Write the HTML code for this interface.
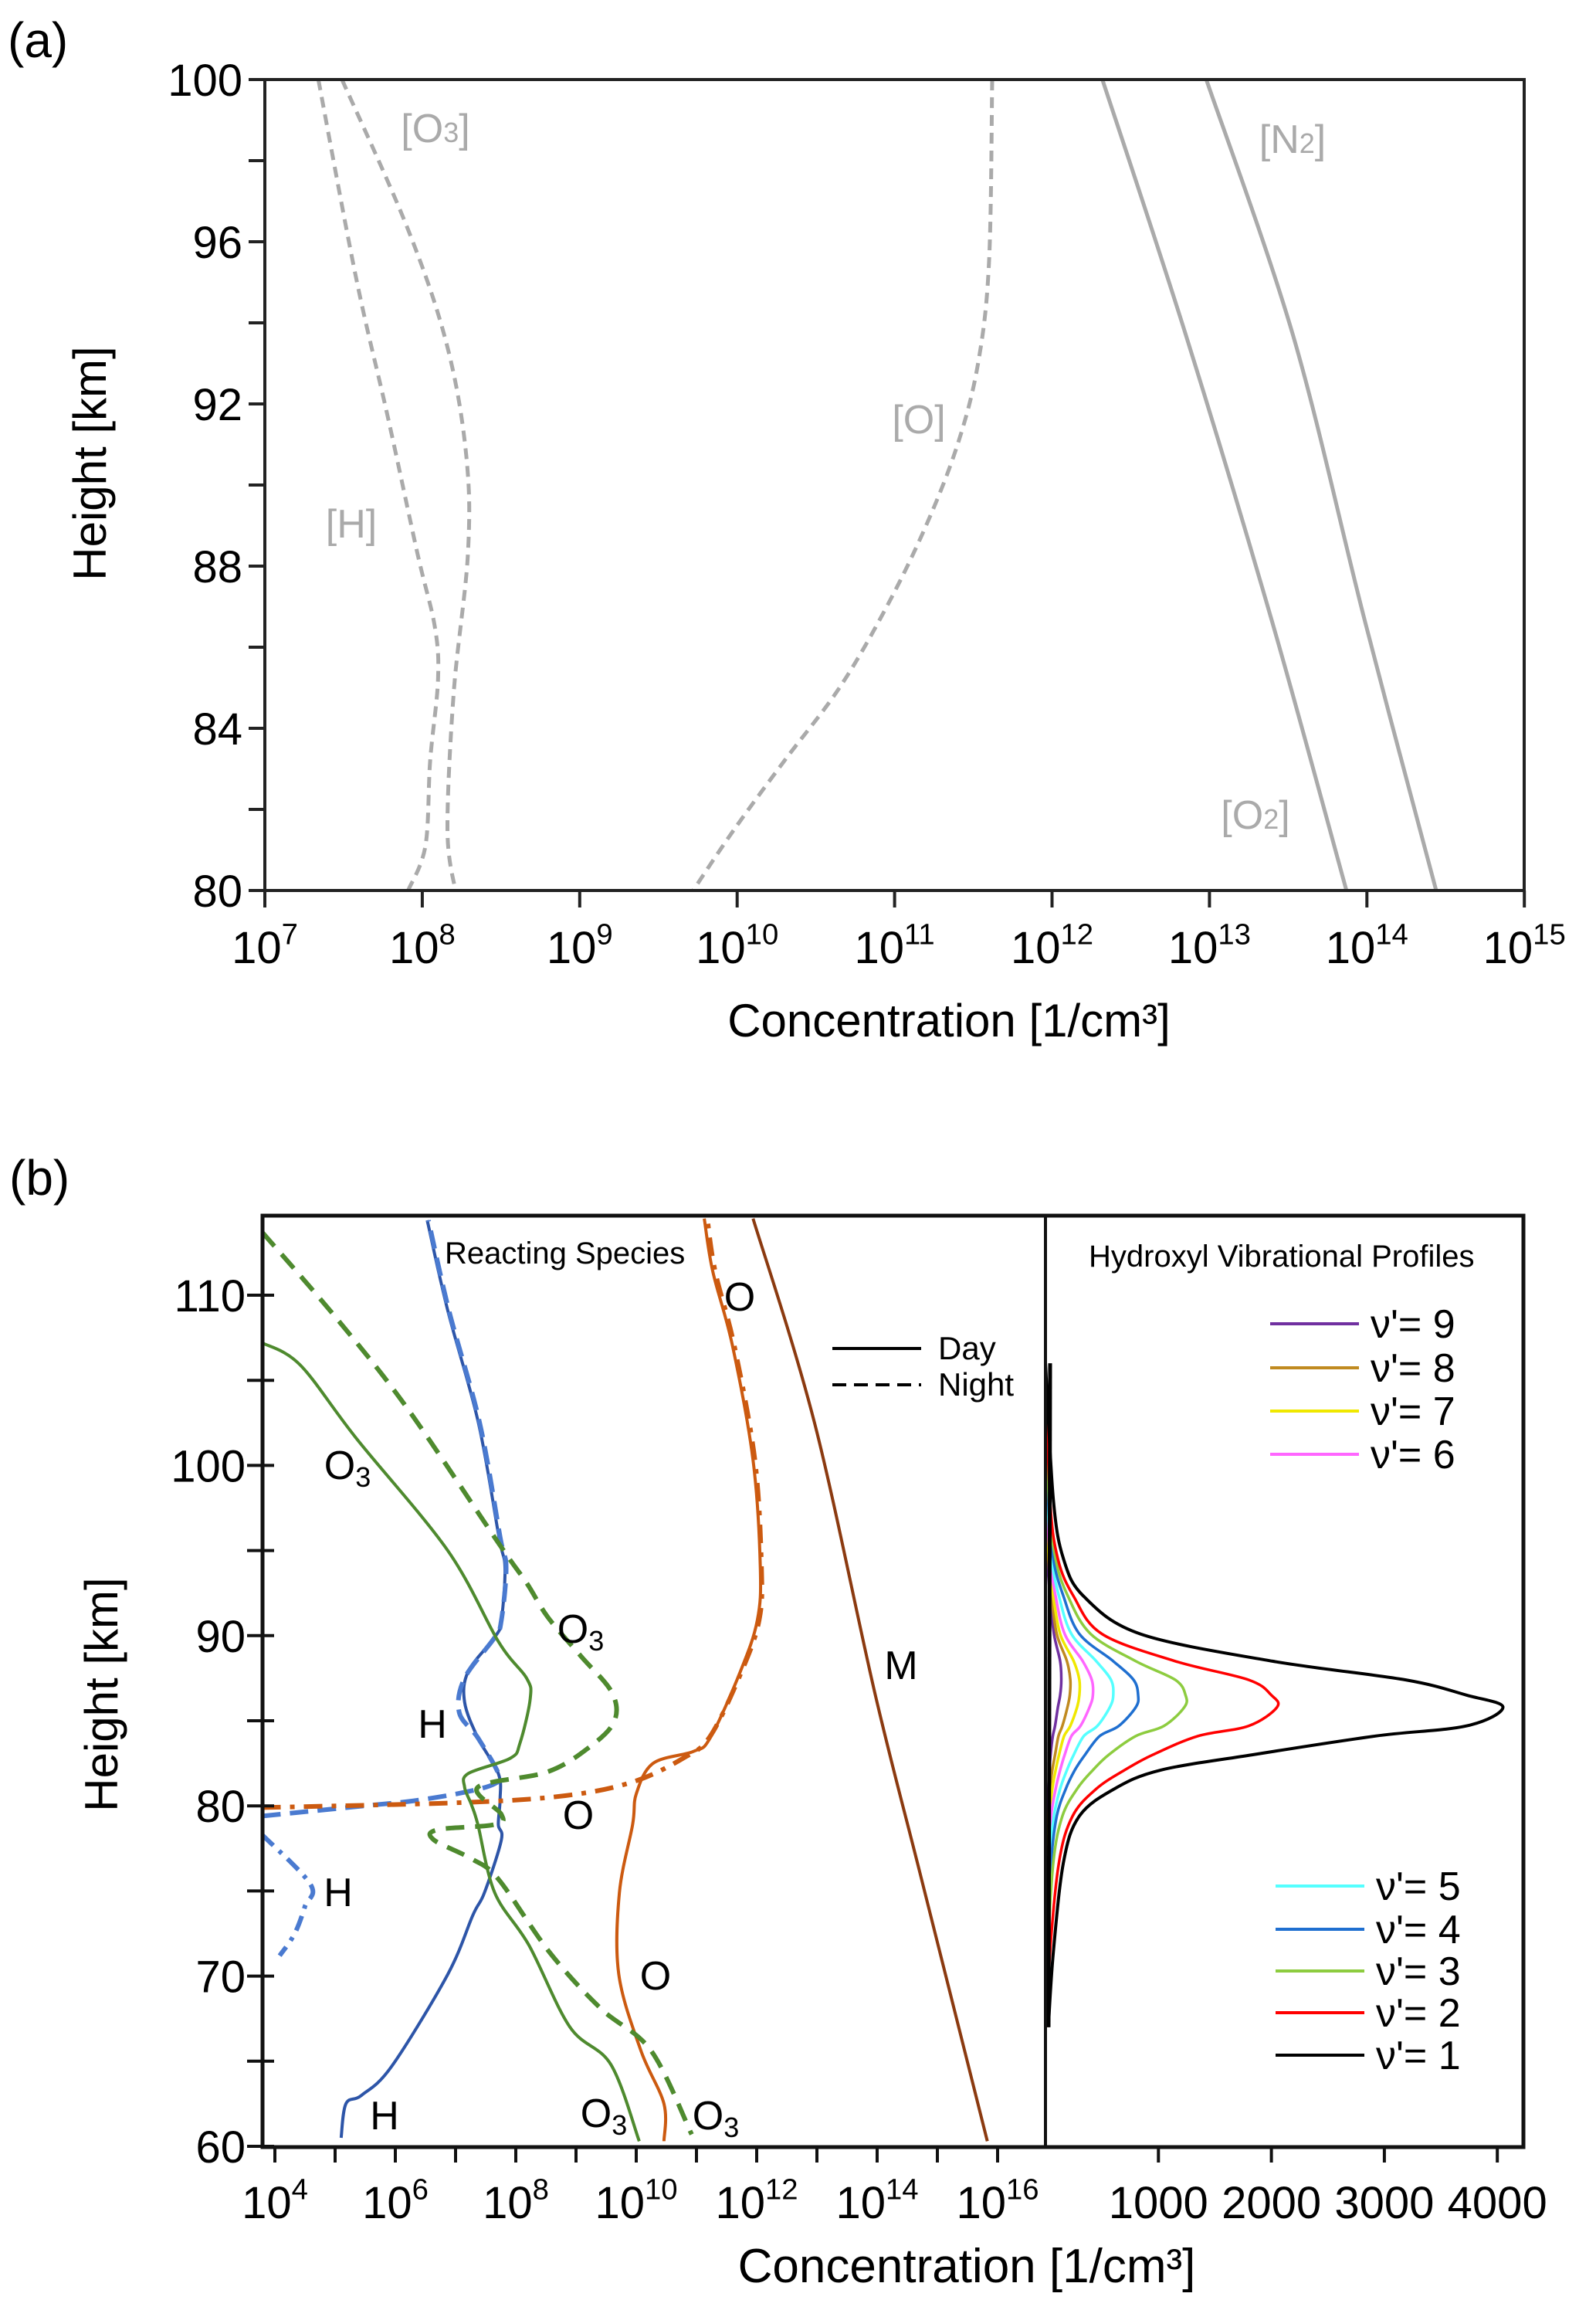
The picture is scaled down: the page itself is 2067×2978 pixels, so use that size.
<!DOCTYPE html>
<html><head><meta charset="utf-8">
<style>
html,body{margin:0;padding:0;background:#fff;}
svg{display:block;font-family:"Liberation Sans Narrow","Liberation Sans",sans-serif;}
</style></head>
<body>
<svg id="fig" width="2067" height="2978" viewBox="0 0 2067 2978" xmlns="http://www.w3.org/2000/svg">
<defs>
<clipPath id="clipA"><rect x="343" y="103" width="1631" height="1050"/></clipPath>
<clipPath id="clipB"><rect x="340" y="1574" width="1014" height="1206"/></clipPath>
<clipPath id="clipR"><rect x="1354" y="1574" width="619" height="1206"/></clipPath>
</defs>
<g id="panelA">
<text x="10" y="74" font-size="64">(a)</text>
<g id="aSeries" clip-path="url(#clipA)"></g>
<rect x="343" y="103" width="1631" height="1050" fill="none" stroke="#222" stroke-width="4"/>
<g id="aAxes"></g>
<text x="137" y="600" font-size="60" text-anchor="middle" transform="rotate(-90 137 600)">Height [km]</text>
<text x="1229" y="1342" font-size="60" text-anchor="middle">Concentration [1/cm³]</text>
<g fill="#aaa" font-size="52" text-anchor="middle">
<text x="564" y="184">[O<tspan font-size="36">3</tspan>]</text>
<text x="1674" y="198">[N<tspan font-size="36">2</tspan>]</text>
<text x="1190" y="561">[O]</text>
<text x="455" y="696">[H]</text>
<text x="1626" y="1073">[O<tspan font-size="36">2</tspan>]</text>
</g>
</g>

<g id="panelB">
<text x="12" y="1547" font-size="64">(b)</text>
<g id="bSeries" clip-path="url(#clipB)"></g>
<g id="rSeries" clip-path="url(#clipR)"></g>
<rect x="340" y="1574" width="1633" height="1206" fill="none" stroke="#111" stroke-width="5"/>
<line x1="1354" y1="1574" x2="1354" y2="2780" stroke="#111" stroke-width="4"/>
<g id="bAxes"></g>
<text x="152" y="2194" font-size="60" text-anchor="middle" transform="rotate(-90 152 2194)">Height [km]</text>
<text x="1252" y="2955" font-size="62" text-anchor="middle">Concentration [1/cm³]</text>
<text x="576" y="1636" font-size="40">Reacting Species</text>
<text x="1410" y="1640" font-size="40">Hydroxyl Vibrational Profiles</text>
<g>
<line x1="1078" y1="1746" x2="1193" y2="1746" stroke="#000" stroke-width="4"/>
<text x="1215" y="1760" font-size="42">Day</text>
<line x1="1078" y1="1793" x2="1193" y2="1793" stroke="#000" stroke-width="4" stroke-dasharray="18,10"/>
<text x="1215" y="1807" font-size="42">Night</text>
</g>
<g font-size="52" text-anchor="middle">
<text x="958" y="1697">O</text>
<text x="1167" y="2174">M</text>
<text x="752" y="2127">O<tspan font-size="36" dy="10">3</tspan></text>
<text x="560" y="2250">H</text>
<text x="749" y="2368">O</text>
<text x="438" y="2468">H</text>
<text x="849" y="2576">O</text>
<text x="498" y="2757">H</text>
<text x="782" y="2754">O<tspan font-size="36" dy="10">3</tspan></text>
<text x="927" y="2757">O<tspan font-size="36" dy="10">3</tspan></text>
<text x="450" y="1915">O<tspan font-size="36" dy="10">3</tspan></text>
</g>
<g id="ohLegend"></g>
</g>

<script>
// ---- Panel (a) data: [log10 concentration, height km]
const aO3 = [[7.49,100],[7.91,96.3],[8.16,93.4],[8.28,90.7],[8.29,88.3],[8.2,84.9],[8.16,81.5],[8.21,80]];
const aH = [[7.34,100],[7.58,95.1],[7.78,91.7],[7.97,88.3],[8.08,86.5],[8.1,85.2],[8.05,83.2],[8.02,81.1],[7.91,80]];
const aO = [[11.62,100],[11.6,95.5],[11.53,93],[11.4,91],[11.2,89],[10.95,87],[10.65,85],[10.3,83.2],[9.98,81.5],[9.72,80]];
const aO2 = [[12.32,100],[12.85,93.7],[13.4,86.6],[13.87,80]];
const aN2 = [[12.98,100],[13.53,93.7],[13.99,86.6],[14.44,80]];
const aXTicks = [7,8,9,10,11,12,13,14,15];
const aYTicks = [80,82,84,86,88,90,92,94,96,98,100];
const aYLabels = [80,84,88,92,96,100];

// ---- Panel (b) reacting species: [log10 concentration, height km]
const hDay = [[5.1,60.5],[5.18,62.5],[5.44,63],[5.94,64.7],[6.87,70.1],[7.29,73.6],[7.48,74.9],[7.76,78],[7.71,78.9],[7.74,80.4],[7.71,81.9],[7.37,84],[7.15,86.1],[7.21,87.9],[7.65,89.9],[7.76,90.9],[7.82,94],[7.72,95.8],[7.38,102.5],[6.87,109.1],[6.53,114.4]];
const hNight = [[3.79,79.4],[4.35,79.6],[5.48,80],[6.31,80.3],[7.15,80.8],[7.65,81.3],[7.71,81.9],[7.37,84],[7.06,85.5],[7.15,87.5],[7.65,89.9],[7.76,90.9],[7.84,94],[7.74,95.8],[7.4,102.5],[6.89,109.1],[6.55,114.4]];
const hDashDot = [[3.79,78.3],[4.59,75.4],[4.5,74.1],[4.33,72.5],[4.08,71.2]];
const oDay = [[10.46,60.3],[10.46,62.5],[10.08,65.6],[9.71,70.1],[9.72,74.9],[9.94,78.9],[10.0,80.7],[10.28,82.5],[10.95,83.2],[11.23,84],[11.73,87.9],[12.01,90.9],[12.06,94],[11.94,100.3],[11.6,107],[11.27,111.4],[11.13,114.5]];
const oNight = [[3.79,79.9],[7.15,80.2],[8.82,80.6],[9.94,81.4],[10.78,82.8],[11.23,84.1],[11.75,87.9],[12.04,90.9],[12.08,94],[11.97,100.3],[11.63,107],[11.31,111.4],[11.18,114.5]];
const mDay = [[11.94,114.5],[12.96,102.5],[13.97,86.5],[14.73,75.8],[15.83,60.3]];
const o3Day = [[3.79,107.2],[4.42,105.9],[5.35,101.6],[6.87,95],[7.72,89.6],[8.18,87.5],[8.24,86.3],[8.07,83.7],[7.91,82.8],[7.21,81.9],[7.15,81.1],[7.26,80.1],[7.37,78.9],[7.65,74.9],[8.22,71.8],[8.9,67],[9.58,64.8],[10.05,60.3]];
const o3Night = [[3.79,113.7],[5.01,108.7],[6.19,103.4],[7.72,95.4],[8.18,93.1],[8.53,91.1],[9.08,88.8],[9.59,86.7],[9.64,85],[9.24,83.5],[8.53,82],[7.37,81.1],[7.76,79.5],[7.65,78.9],[6.7,78.6],[6.64,78],[7.26,76.9],[7.71,75.7],[8.56,71.4],[9.41,68.1],[10.25,65.6],[10.92,60.7]];
const bXTicks = [4,5,6,7,8,9,10,11,12,13,14,15,16];
const bXLabels = [4,6,8,10,12,14,16];
const bYTicks = [60,65,70,75,80,85,90,95,100,105,110];
const bYLabels = [60,70,80,90,100,110];

// ---- Hydroxyl vibrational profiles: heights (km) and values
const ohHeights = [106,98,94.5,92.3,90.1,88.5,87.4,86.5,85.8,84.7,84.1,83,82.1,81,79.4,76.7,71.4,67];
const ohV1 = [0,70,160,340,840,2010,3190,3730,4050,3730,2920,1830,1020,610,300,160,70,25];
const ohV2 = [0,40,110,250,500,1150,1800,2000,2050,1800,1350,950,700,450,240,120,40,10];
const ohV3 = [0,30,90,200,400,800,1150,1240,1230,1050,800,560,420,280,150,70,20,5];
const ohV4 = [0,25,70,160,300,600,780,820,800,650,480,350,260,180,100,50,15,0];
const ohV5 = [0,20,55,120,230,450,580,600,570,460,340,250,190,130,75,35,10,0];
const ohV6 = [0,15,40,90,170,330,410,420,390,310,230,170,130,90,50,25,5,0];
const ohV7 = [0,12,30,70,130,250,300,300,280,220,165,120,90,60,35,15,5,0];
const ohV8 = [0,10,25,55,100,190,220,215,195,150,115,85,60,40,25,10,0,0];
const ohV9 = [0,8,18,40,75,130,140,130,110,85,65,45,35,25,15,5,0,0];
const ohXTicks = [1000,2000,3000,4000];
const ohLevels = ['9','8','7','6','5','4','3','2','1'];

const NS = 'http://www.w3.org/2000/svg';
const aX = v => 343 + (v - 7) * 203.9;
const aY = h => 1153 - (h - 80) * 52.5;
const bX = v => 356 + (v - 4) * 78;
const bY = h => 2779 - (h - 60) * 22.04;
const rX = v => 1354 + v * 0.1463;

function mk(tag, parent, attrs) {
  const e = document.createElementNS(NS, tag);
  for (const k in attrs) e.setAttribute(k, attrs[k]);
  parent.appendChild(e);
  return e;
}
function smoothPath(pts) {
  let d = 'M' + pts[0][0].toFixed(1) + ',' + pts[0][1].toFixed(1);
  for (let i = 0; i < pts.length - 1; i++) {
    const p0 = pts[i - 1] || pts[i], p1 = pts[i], p2 = pts[i + 1], p3 = pts[i + 2] || p2;
    const c1x = p1[0] + (p2[0] - p0[0]) / 6, c1y = p1[1] + (p2[1] - p0[1]) / 6;
    const c2x = p2[0] - (p3[0] - p1[0]) / 6, c2y = p2[1] - (p3[1] - p1[1]) / 6;
    d += ' C' + c1x.toFixed(1) + ',' + c1y.toFixed(1) + ' ' + c2x.toFixed(1) + ',' + c2y.toFixed(1) + ' ' + p2[0].toFixed(1) + ',' + p2[1].toFixed(1);
  }
  return d;
}
function series(parent, data, fx, fy, style, name) {
  const pts = data.map(p => [fx(p[0]), fy(p[1])]);
  const e = mk('path', parent, Object.assign({d: smoothPath(pts), fill: 'none', 'stroke-linecap': 'butt', 'stroke-linejoin': 'round'}, style));
  
  
  return e;
}
function txt(parent, x, y, size, anchor, base, sup, name) {
  const t = mk('text', parent, {x: x, y: y, 'font-size': size, 'text-anchor': anchor});
  t.textContent = base;
  if (sup !== null) {
    const s = mk('tspan', t, {'font-size': size * 0.66, dy: -size * 0.42});
    s.textContent = sup;
  }
  
  
  return t;
}

// ---- Panel (a)
const aS = document.getElementById('aSeries');
const grayDash = {stroke: '#aaa', 'stroke-width': 5, 'stroke-dasharray': '14,9'};
series(aS, aO3, aX, aY, grayDash, 'o3-profile');
series(aS, aH, aX, aY, grayDash, 'h-profile');
series(aS, aO, aX, aY, grayDash, 'o-profile');
series(aS, aO2, aX, aY, {stroke: '#aaa', 'stroke-width': 5}, 'o2-profile');
series(aS, aN2, aX, aY, {stroke: '#aaa', 'stroke-width': 5}, 'n2-profile');

const aA = document.getElementById('aAxes');
aXTicks.forEach(v => {
  const l = mk('line', aA, {x1: aX(v), x2: aX(v), y1: 1153, y2: 1175, stroke: '#222', 'stroke-width': 4});
  
  
  txt(aA, aX(v), 1247, 58, 'middle', '10', String(v), 'x-tick-label');
});
aYTicks.forEach(h => {
  const l = mk('line', aA, {x1: 322, x2: 343, y1: aY(h), y2: aY(h), stroke: '#222', 'stroke-width': 4});
  
  
});
aYLabels.forEach(h => { txt(aA, 314, aY(h) + 21, 58, 'end', String(h), null, 'y-tick-label'); });

// ---- Panel (b)
const bS = document.getElementById('bSeries');
series(bS, hDay, bX, bY, {stroke: '#2d55a8', 'stroke-width': 4}, 'h-day');
series(bS, hNight, bX, bY, {stroke: '#4a7ad0', 'stroke-width': 6, 'stroke-dasharray': '24,12'}, 'h-night');
series(bS, hDashDot, bX, bY, {stroke: '#4a7ad0', 'stroke-width': 6, 'stroke-dasharray': '20,10,5,10'}, 'h-dash-dot');
series(bS, oDay, bX, bY, {stroke: '#cc5a10', 'stroke-width': 4}, 'o-day');
series(bS, oNight, bX, bY, {stroke: '#cc5a10', 'stroke-width': 6, 'stroke-dasharray': '24,12,6,12'}, 'o-night');
series(bS, mDay, bX, bY, {stroke: '#8b3a10', 'stroke-width': 4}, 'm-day');
series(bS, o3Day, bX, bY, {stroke: '#4e8a2e', 'stroke-width': 4}, 'o3-day');
series(bS, o3Night, bX, bY, {stroke: '#4e8a2e', 'stroke-width': 6, 'stroke-dasharray': '24,14'}, 'o3-night');

const rS = document.getElementById('rSeries');
const ohSeries = [ohV9, ohV8, ohV7, ohV6, ohV5, ohV4, ohV3, ohV2, ohV1];
const ohColors = ['#7030a0', '#c08a20', '#f0e800', '#ff66ff', '#55ffff', '#1f6fd0', '#8dcc3f', '#ff0000', '#000000'];
ohSeries.forEach((vals, i) => {
  const pts = vals.map((v, j) => [v, ohHeights[j]]);
  series(rS, pts, rX, bY, {stroke: ohColors[i], 'stroke-width': i === 8 ? 4 : 3.5}, 'oh-profile-v' + ohLevels[i]);
});
const base = mk('line', rS, {x1: 1360, x2: 1358, y1: bY(106), y2: bY(67), stroke: '#000', 'stroke-width': 5});



const bA = document.getElementById('bAxes');
bXTicks.forEach(v => {
  const l = mk('line', bA, {x1: bX(v), x2: bX(v), y1: 2780, y2: 2800, stroke: '#111', 'stroke-width': 4});
  
  
});
bXLabels.forEach(v => { txt(bA, bX(v), 2872, 58, 'middle', '10', String(v), 'x-tick-label'); });
ohXTicks.forEach(v => {
  const l = mk('line', bA, {x1: rX(v), x2: rX(v), y1: 2780, y2: 2800, stroke: '#111', 'stroke-width': 4});
  
  
  txt(bA, rX(v), 2872, 58, 'middle', String(v), null, 'oh-x-tick-label');
});
bYTicks.forEach(h => {
  const l = mk('line', bA, {x1: 320, x2: 355, y1: bY(h), y2: bY(h), stroke: '#111', 'stroke-width': 4});
  
  
});
bYLabels.forEach(h => { txt(bA, 318, bY(h) + 21, 58, 'end', String(h), null, 'y-tick-label'); });

// ---- Hydroxyl legend
const lg = document.getElementById('ohLegend');
const legY = [1714, 1771, 1827, 1883, 2442, 2498, 2552, 2606, 2661];
ohLevels.forEach((lv, i) => {
  const x0 = i < 4 ? 1645 : 1652;
  const l = mk('line', lg, {x1: x0, x2: x0 + 115, y1: legY[i], y2: legY[i], stroke: ohColors[i], 'stroke-width': 4});
  
  
  const t = mk('text', lg, {x: x0 + 130, y: legY[i] + 18, 'font-size': 52});
  t.textContent = "ν'= " + lv;
  
  
});
</script>
</svg>
</body></html>
